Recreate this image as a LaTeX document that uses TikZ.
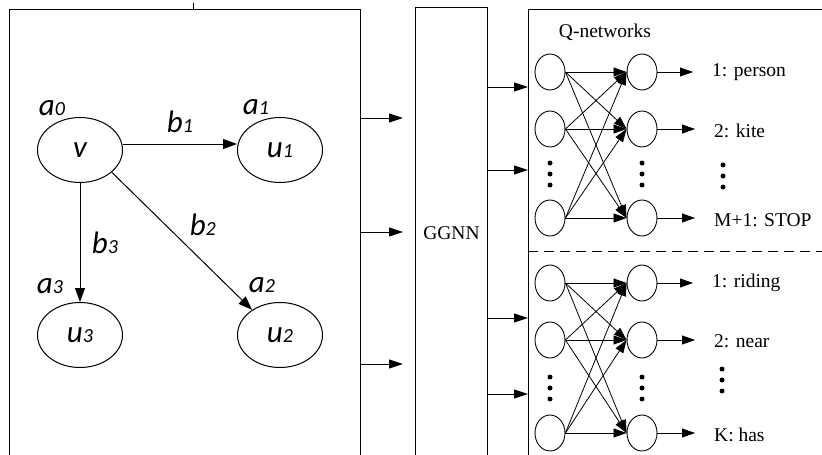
\documentclass[tikz,border=0pt]{standalone}
\usepackage{fontspec}
\setmainfont{Liberation Serif}
\newfontfamily\graphfont{Carlito}
\usetikzlibrary{positioning}
\usetikzlibrary{shapes.geometric,arrows.meta}

\newcommand{\gsym}[2]{#1{\fontsize{20}{22}\selectfont #2}}

\tikzset{
 gnode/.style={draw,ellipse,minimum width=85pt,minimum height=65pt,line width=1pt,inner sep=0pt},
 gtext/.style={inner sep=0pt},
 garrow/.style={-{Triangle[length=14pt,width=10pt]},line width=1pt},
 barrow/.style={-{Triangle[length=14pt,width=9pt]},line width=1pt},
 qnode/.style={draw,ellipse,minimum width=30pt,minimum height=36pt,line width=0.9pt,inner sep=0pt},
 qarrow/.style={-{Triangle[length=13pt,width=9pt]},line width=0.8pt},
 box/.style={draw,line width=1pt,anchor=north west,inner sep=0pt},
 qtext/.style={anchor=west,inner sep=2pt},
 qdot/.style={fill,circle,inner sep=0pt,minimum size=5pt}
}

\begin{document}
\begin{tikzpicture}[x=1pt,y=-1pt,font=\fontsize{19.5}{22}\selectfont]
 \useasboundingbox (0,0) rectangle (822,455);
 \clip (0,0) rectangle (822,455);
 \node[box,minimum width=351pt,minimum height=461pt] (graphbox) at (9,9) {};
 \node[box,minimum width=72pt,minimum height=451pt] (ggnn) at (415,7) {GGNN};
 \node[box,minimum width=310pt,minimum height=461pt] (qbox) at (528,9) {};
 \draw[line width=1pt] (193,3) -- (193,9);

 \begin{scope}[font=\graphfont\itshape\fontsize{31}{33}\selectfont]
 \node[gnode] (v) at (80,150) {v};
 \node[gnode] (u1) at (280,150) {\gsym{u}{1}};
 \node[gnode] (u2) at (280,335) {\gsym{u}{2}};
 \node[gnode] (u3) at (80,335) {\gsym{u}{3}};
 \node[gtext] (a0) at (52,108) {\gsym{a}{0}};
 \node[gtext] (a1) at (256,107) {\gsym{a}{1}};
 \node[gtext] (a2) at (262,285) {\gsym{a}{2}};
 \node[gtext] (a3) at (50,286) {\gsym{a}{3}};
 \draw[garrow] ([yshift=6pt]v.east) -- node[above=7pt] {\gsym{b}{1}} ([yshift=6pt]u1.west);
 \draw[garrow] (v.-35) -- node[above right=2pt and 4pt] {\gsym{b}{2}} (u2.138);
 \draw[garrow] (v.south) -- node[right=8pt] {\gsym{b}{3}} (u3.north);
 \end{scope}

 \foreach \y in {118,232,364}
  \draw[barrow,shorten >=12pt] (graphbox.east |- 0,\y) -- (ggnn.west |- 0,\y);
 \foreach \y in {87,170,318,394}
  \draw[barrow] (ggnn.east |- 0,\y) -- (qbox.west |- 0,\y);

 \node (qtitle) at (605,32) {Q-networks};
 \draw[line width=1pt,dash pattern=on 10pt off 6pt] (qbox.west |- 0,251) -- (830,251);

 \foreach \g/\ya/\yb/\yc in {obj/72/129/218,rel/283/340/433} {
  \node[qnode] (\g-l1) at (550,\ya) {};
  \node[qnode] (\g-l2) at (550,\yb) {};
  \node[qnode] (\g-l3) at (550,\yc) {};
  \node[qnode] (\g-r1) at (642,\ya) {};
  \node[qnode] (\g-r2) at (642,\yb) {};
  \node[qnode] (\g-r3) at (642,\yc) {};
  \foreach \i in {1,2,3}
   \foreach \j in {1,2,3}
    \draw[qarrow] (\g-l\i.east) -- (\g-r\j.west);
 }

 \node[qtext] (o1) at (710,72) {1: person};
 \node[qtext] (o2) at (712,131) {2: kite};
 \node[qtext] (o3) at (712,220) {M+1: STOP};
 \node[qtext] (k1) at (710,283) {1: riding};
 \node[qtext] (k2) at (712,341) {2: near};
 \node[qtext] (k3) at (712,435) {K: has};
 \foreach \a/\b in {obj-r1/o1,obj-r2/o2,obj-r3/o3,rel-r1/k1,rel-r2/k2,rel-r3/k3}
  \draw[qarrow,shorten >=17pt] (\a.east) -- (\b.west |- \a.east);

 \foreach \x/\y in {550/163,550/174,550/185,642/163,642/174,642/185,723/165,723/176,723/187,
                    550/377,550/388,550/399,642/377,642/388,642/399,722/369,722/380,722/391}
  \node[qdot] at (\x,\y) {};
\end{tikzpicture}
\end{document}
